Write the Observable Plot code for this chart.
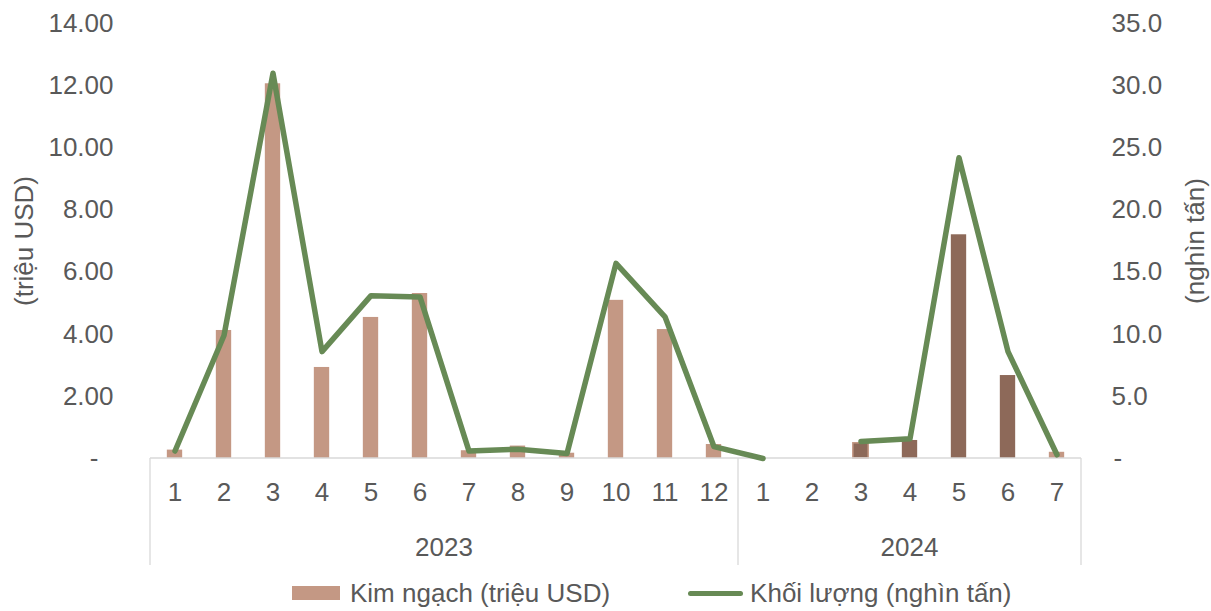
<!DOCTYPE html>
<html>
<head>
<meta charset="utf-8">
<script src="https://cdn.jsdelivr.net/npm/d3@7"></script>
<script src="https://cdn.jsdelivr.net/npm/@observablehq/plot@0.6"></script>
<style>
  html, body { margin: 0; padding: 0; background: #fff; }
  body { width: 1211px; height: 611px; overflow: hidden; font-family: "Liberation Sans", Arial, sans-serif; color: #595959; }
  #legend { display: flex; align-items: center; height: 36px; margin-left: 292px; font-size: 26px; color: #595959; white-space: nowrap; }
  .sw-bar { width: 48px; height: 14px; background: #c49884; margin-right: 10px; }
  .sw-line { width: 55px; height: 5px; background: #678a55; border-radius: 3px; margin-left: 78px; margin-right: 7px; }
</style>
</head>
<body>
<div id="chart"></div>
<div id="legend">
  <div class="sw-bar"></div><span id="lg1"></span>
  <div class="sw-line"></div><span id="lg2"></span>
</div>
<script>
// ---- Data ----
const years = [2023, 2023, 2023, 2023, 2023, 2023, 2023, 2023, 2023, 2023, 2023, 2023,
               2024, 2024, 2024, 2024, 2024, 2024, 2024];
const months = [1, 2, 3, 4, 5, 6, 7, 8, 9, 10, 11, 12, 1, 2, 3, 4, 5, 6, 7];
// Kim ngạch (triệu USD) - left axis
const kimNgach = [0.27, 4.12, 12.06, 2.93, 4.54, 5.31, 0.25, 0.40, 0.17, 5.09, 4.15, 0.45,
                  0, 0, 0.49, 0.58, 7.20, 2.67, 0.20];
// Khối lượng (nghìn tấn) - right axis
const khoiLuong = [0.6, 9.9, 31.0, 8.6, 13.1, 13.0, 0.6, 0.75, 0.4, 15.7, 11.4, 0.95,
                   0, null, 1.37, 1.58, 24.2, 8.6, 0.3];
const leftTicks = [2, 4, 6, 8, 10, 12, 14];
const rightTicks = [5, 10, 15, 20, 25, 30, 35];
const seriesNames = ["Kim ngạch (triệu USD)", "Khối lượng (nghìn tấn)"];
const axisTitles = ["(triệu USD)", "(nghìn tấn)"];

const leftMax = 14, rightMax = 35;
const ratio = leftMax / rightMax;

const data = years.map((y, i) => ({
  key: `${y}-${months[i]}`, year: y, month: months[i],
  kn: kimNgach[i], kl: khoiLuong[i]
}));
const keys = data.map(d => d.key);

const W = 1211, H = 575;
const mL = 148, mR = W - 1082, mT = 23, mB = H - 458;
const step = (W - mL - mR) / keys.length;
const barW = 15.5;
const inset = (step - barW) / 2;

const light = "#c49884", dark = "#8d6959", green = "#678a55", txt = "#595959";
const isDark = d => d.year === 2024 && d.month >= 3 && d.month <= 6;

const chart = Plot.plot({
  width: W, height: H,
  marginLeft: mL, marginRight: mR, marginTop: mT, marginBottom: mB,
  style: { fontFamily: "'Liberation Sans', Arial, sans-serif", fontSize: "26px", color: txt, background: "#fff" },
  x: { type: "band", domain: keys, padding: 0, axis: null },
  y: { domain: [0, leftMax], axis: null },
  marks: [
    Plot.barY(data, { x: "key", y: "kn", fill: d => isDark(d) ? dark : light,
      stroke: d => (d.year === 2024 && d.month === 3) ? light : "none", strokeWidth: 1.5,
      insetLeft: inset, insetRight: inset }),
    Plot.line(data, { x: "key", y: d => d.kl == null ? NaN : d.kl * ratio,
      stroke: green, strokeWidth: 5.5, strokeLinejoin: "round", strokeLinecap: "round" }),
    Plot.axisX({ tickSize: 0, tickPadding: 24, tickFormat: k => k.split("-")[1], label: null, fill: txt, fontSize: 26 }),
    Plot.axisY({ anchor: "left", ticks: leftTicks, tickFormat: d3.format(".2f"), tickSize: 0, tickPadding: 35, label: null, fill: txt, fontSize: 26 }),
    Plot.axisY({ anchor: "left", ticks: [0], tickFormat: () => "-", tickSize: 0, tickPadding: 50, label: null, fill: txt, fontSize: 26 }),
    Plot.axisY({ anchor: "right", ticks: rightTicks.map(v => v * ratio), tickFormat: v => (v / ratio).toFixed(1), tickSize: 0, tickPadding: 29, label: null, fill: txt, fontSize: 26 }),
    Plot.axisY({ anchor: "right", ticks: [0], tickFormat: () => "-", tickSize: 0, tickPadding: 31, label: null, fill: txt, fontSize: 26 }),
    Plot.text([axisTitles[0]], { text: d => d, frameAnchor: "left", rotate: -90, dx: 24 - mL, fill: txt, fontSize: 26, textAnchor: "middle" }),
    Plot.text([axisTitles[1]], { text: d => d, frameAnchor: "right", rotate: -90, dx: 1195 - (W - mR), fill: txt, fontSize: 26, textAnchor: "middle" })
  ]
});

// category axis frame: baseline, group separators and year labels from the x scale
const xs = chart.scale("x");
const ys = chart.scale("y");
const svg = d3.select(chart.tagName.toLowerCase() === "svg" ? chart : chart.querySelector("svg"));
const y0 = ys.apply(0);
const groupYears = Array.from(new Set(years));
const g = svg.append("g");
const first = keys[0], last = keys[keys.length - 1];
const xLeft = xs.apply(first), xRight = xs.apply(last) + xs.bandwidth;
g.append("line").attr("x1", xLeft).attr("x2", xRight).attr("y1", y0).attr("y2", y0)
  .attr("stroke", "#d9d9d9").attr("stroke-width", 1.3);
const edges = [xLeft];
groupYears.forEach(yr => {
  const ks = data.filter(d => d.year === yr).map(d => d.key);
  const a = xs.apply(ks[0]), b = xs.apply(ks[ks.length - 1]) + xs.bandwidth;
  edges.push(b);
  g.append("text").attr("x", (a + b) / 2).attr("y", 547).attr("dy", "0.35em")
    .attr("text-anchor", "middle").attr("fill", txt).attr("font-size", 26).text(yr);
});
edges.forEach(e => g.append("line").attr("x1", e).attr("x2", e).attr("y1", y0).attr("y2", 565)
  .attr("stroke", "#d9d9d9").attr("stroke-width", 1.3));
// bring bars/line to front over baseline
svg.node().appendChild(svg.select("g[aria-label='line']").node() || document.createElement("g"));

document.getElementById("chart").appendChild(chart);
document.getElementById("lg1").textContent = seriesNames[0];
document.getElementById("lg2").textContent = seriesNames[1];
</script>
</body>
</html>
